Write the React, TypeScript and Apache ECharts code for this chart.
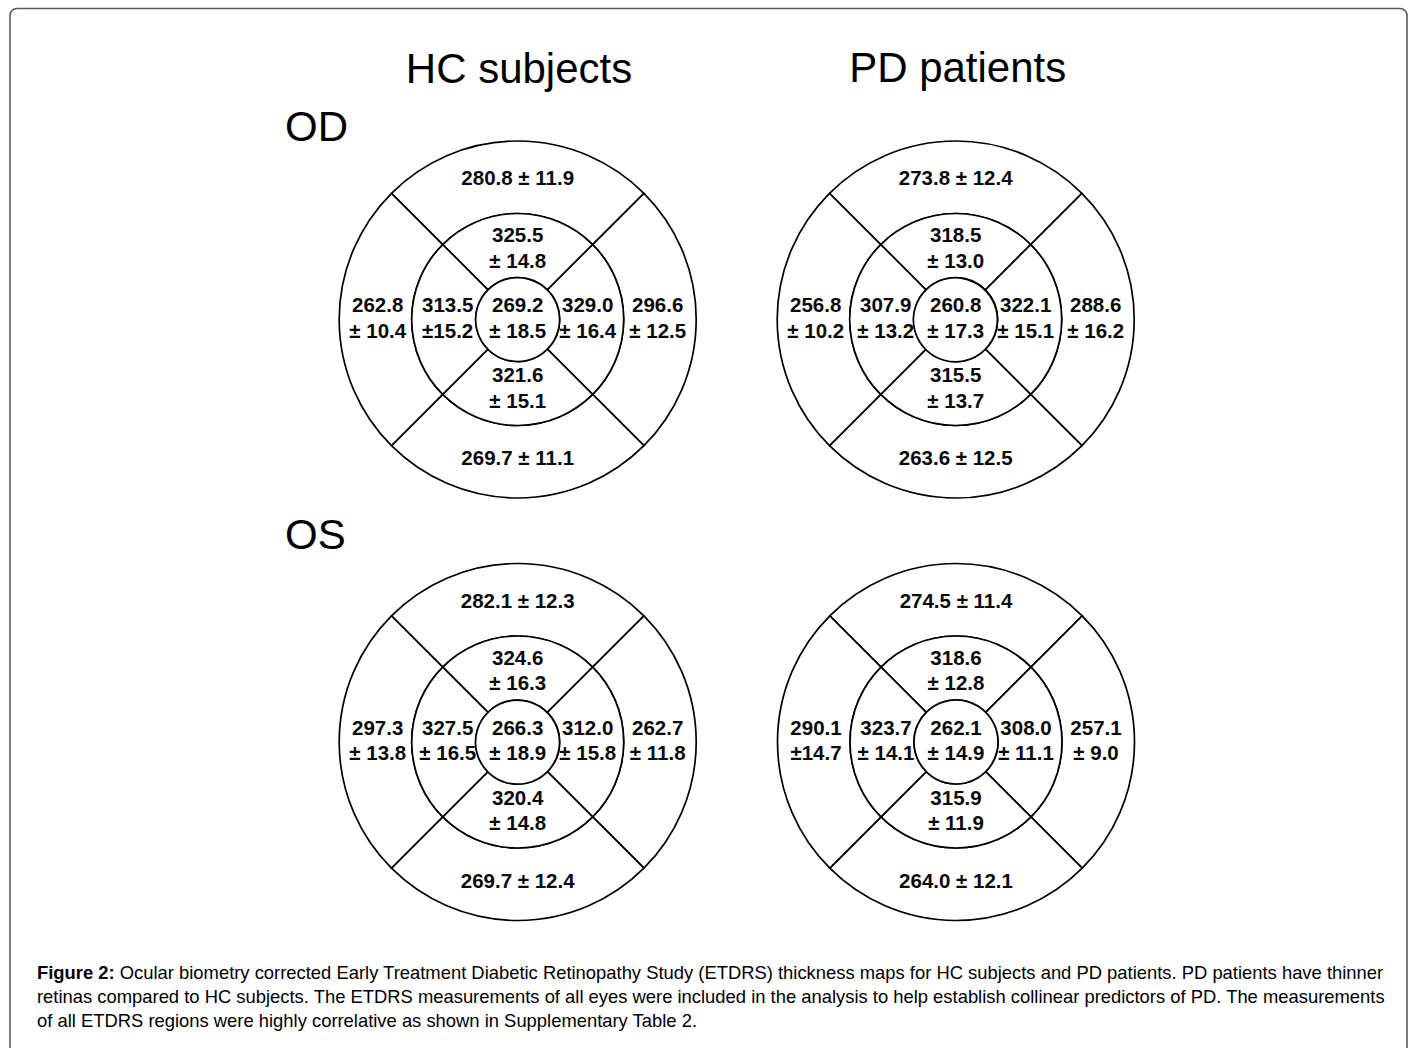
import React, { useEffect, useRef } from "react";
import * as echarts from "echarts";

// Sector order in each ring: superior (top), right, inferior (bottom), left
const sectorNames = ["Superior", "Right", "Inferior", "Left"];

const groupTitles = ["HC subjects", "PD patients"];
const eyeTitles = ["OD", "OS"];

// HC subjects, OD
const hcOdOuterMean = [280.8, 296.6, 269.7, 262.8];
const hcOdOuterSd = [11.9, 12.5, 11.1, 10.4];
const hcOdInnerMean = [325.5, 329.0, 321.6, 313.5];
const hcOdInnerSd = [14.8, 16.4, 15.1, 15.2];
const hcOdCenter = [269.2, 18.5];

// PD patients, OD
const pdOdOuterMean = [273.8, 288.6, 263.6, 256.8];
const pdOdOuterSd = [12.4, 16.2, 12.5, 10.2];
const pdOdInnerMean = [318.5, 322.1, 315.5, 307.9];
const pdOdInnerSd = [13.0, 15.1, 13.7, 13.2];
const pdOdCenter = [260.8, 17.3];

// HC subjects, OS
const hcOsOuterMean = [282.1, 262.7, 269.7, 297.3];
const hcOsOuterSd = [12.3, 11.8, 12.4, 13.8];
const hcOsInnerMean = [324.6, 312.0, 320.4, 327.5];
const hcOsInnerSd = [16.3, 15.8, 14.8, 16.5];
const hcOsCenter = [266.3, 18.9];

// PD patients, OS
const pdOsOuterMean = [274.5, 257.1, 264.0, 290.1];
const pdOsOuterSd = [11.4, 9.0, 12.1, 14.7];
const pdOsInnerMean = [318.6, 308.0, 315.9, 323.7];
const pdOsInnerSd = [12.8, 11.1, 11.9, 14.1];
const pdOsCenter = [262.1, 14.9];

// labels printed without a space after "±" in the original figure
const tightLabels = ["hc-od-inner-3", "pd-os-outer-3"];

const captionLines = [
  "Ocular biometry corrected Early Treatment Diabetic Retinopathy Study (ETDRS) thickness maps for HC subjects and PD patients. PD patients have thinner",
  "retinas compared to HC subjects. The ETDRS measurements of all eyes were included in the analysis to help establish collinear predictors of PD. The measurements",
  "of all ETDRS regions were highly correlative as shown in Supplementary Table 2.",
];

const FONT = "'Liberation Sans', Arial, Helvetica, sans-serif";

const maps = [
  { key: "hc-od", cx: 517.7, cy: 319.5, oM: hcOdOuterMean, oS: hcOdOuterSd, iM: hcOdInnerMean, iS: hcOdInnerSd, c: hcOdCenter },
  { key: "pd-od", cx: 955.7, cy: 319.5, oM: pdOdOuterMean, oS: pdOdOuterSd, iM: pdOdInnerMean, iS: pdOdInnerSd, c: pdOdCenter },
  { key: "hc-os", cx: 517.7, cy: 742, oM: hcOsOuterMean, oS: hcOsOuterSd, iM: hcOsInnerMean, iS: hcOsInnerSd, c: hcOsCenter },
  { key: "pd-os", cx: 956, cy: 742, oM: pdOsOuterMean, oS: pdOsOuterSd, iM: pdOsInnerMean, iS: pdOsInnerSd, c: pdOsCenter },
];

const R_OUTER = 178.5;
const R_MID = 106;
const R_IN = 42;
// transparent label rings (where the numbers sit)
const LABEL_OUTER = [R_MID, 168];
const LABEL_INNER = [R_IN, 92];

function pm(sd: number, tight: boolean) {
  return "±" + (tight ? "" : " ") + sd.toFixed(1);
}

function buildSeries() {
  const series: any[] = [];
  const common = {
    type: "pie",
    silent: true,
    animation: false,
    startAngle: 135,
    clockwise: true,
    labelLine: { show: false },
    emphasis: { disabled: true },
  };
  const ringStyle = { color: "#ffffff", borderColor: "#000000", borderWidth: 1.7 };
  const hidden = { color: "rgba(0,0,0,0)", borderWidth: 0 };
  const labelStyle = {
    show: true,
    color: "#0a0a0a",
    fontSize: 20.5,
    fontWeight: "bold",
    fontFamily: FONT,
    lineHeight: 25.5,
    offset: [0, -2],
  };
  maps.forEach((m) => {
    // drawn rings
    series.push({
      ...common,
      name: m.key + "-outer",
      center: [m.cx, m.cy],
      radius: [R_MID, R_OUTER],
      itemStyle: ringStyle,
      label: { show: false },
      data: sectorNames.map((n) => ({ name: n, value: 1 })),
    });
    series.push({
      ...common,
      name: m.key + "-inner",
      center: [m.cx, m.cy],
      radius: [R_IN, R_MID],
      itemStyle: ringStyle,
      label: { show: false },
      data: sectorNames.map((n) => ({ name: n, value: 1 })),
    });
    series.push({
      ...common,
      name: m.key + "-center",
      center: [m.cx, m.cy],
      radius: [0, R_IN],
      itemStyle: ringStyle,
      data: [{ name: "Center", value: 1 }],
      label: {
        ...labelStyle,
        position: "center",
        formatter: () => m.c[0].toFixed(1) + "\n" + pm(m.c[1], false),
      },
    });
    // label carriers
    series.push({
      ...common,
      name: m.key + "-outer-labels",
      center: [m.cx, m.cy],
      radius: LABEL_OUTER,
      itemStyle: hidden,
      data: sectorNames.map((n) => ({ name: n, value: 1 })),
      label: {
        ...labelStyle,
        position: "inside",
        formatter: (p: any) => {
          const i = p.dataIndex;
          const tight = tightLabels.includes(m.key + "-outer-" + i);
          const mean = m.oM[i].toFixed(1);
          if (i === 0 || i === 2) return mean + " " + pm(m.oS[i], tight);
          return mean + "\n" + pm(m.oS[i], tight);
        },
      },
    });
    series.push({
      ...common,
      name: m.key + "-inner-labels",
      center: [m.cx, m.cy],
      radius: LABEL_INNER,
      itemStyle: hidden,
      data: sectorNames.map((n) => ({ name: n, value: 1 })),
      label: {
        ...labelStyle,
        position: "inside",
        formatter: (p: any) => {
          const i = p.dataIndex;
          const tight = tightLabels.includes(m.key + "-inner-" + i);
          return m.iM[i].toFixed(1) + "\n" + pm(m.iS[i], tight);
        },
      },
    });
  });
  return series;
}

function textEl(text: string, x: number, y: number, size: number, align: string, extra: any = {}) {
  return {
    type: "text",
    x,
    y,
    silent: true,
    style: {
      text,
      fill: "#000",
      fontSize: size,
      fontFamily: FONT,
      align,
      textAlign: align,
      verticalAlign: "middle",
      textVerticalAlign: "middle",
      ...extra,
    },
  };
}

export default function App() {
  const ref = useRef<HTMLDivElement>(null);
  useEffect(() => {
    if (!ref.current) return;
    const chart = echarts.init(ref.current, undefined, { renderer: "svg" });
    const capSize = 18.4;
    const option = {
      animation: false,
      backgroundColor: "#ffffff",
      graphic: [
        {
          type: "rect",
          silent: true,
          shape: { x: 10, y: 8.5, width: 1397, height: 1080, r: 7 },
          style: { fill: "none", stroke: "#5a5a5a", lineWidth: 1.6 },
        },
        textEl(groupTitles[0], 519, 68, 42, "center"),
        textEl(groupTitles[1], 957.7, 67.5, 42, "center"),
        textEl(eyeTitles[0], 285, 126.5, 42, "left"),
        textEl(eyeTitles[1], 285, 534.5, 42, "left"),
        {
          type: "text",
          x: 37,
          y: 972,
          silent: true,
          style: {
            text: "{b|Figure 2:}{r| " + captionLines[0] + "}",
            align: "left",
            textAlign: "left",
            verticalAlign: "middle",
            textVerticalAlign: "middle",
            rich: {
              b: { fontWeight: "bold", fontSize: capSize, fontFamily: FONT, fill: "#000", color: "#000" },
              r: { fontSize: capSize, fontFamily: FONT, fill: "#000", color: "#000" },
            },
          },
        },
        textEl(captionLines[1], 37, 996, capSize, "left"),
        textEl(captionLines[2], 37, 1020, capSize, "left"),
      ],
      series: buildSeries(),
    };
    chart.setOption(option as any);
    return () => chart.dispose();
  }, []);
  return (
    <div
      ref={ref}
      style={{ position: "absolute", left: 0, top: 0, width: 1414, height: 1048, background: "#fff" }}
    />
  );
}
